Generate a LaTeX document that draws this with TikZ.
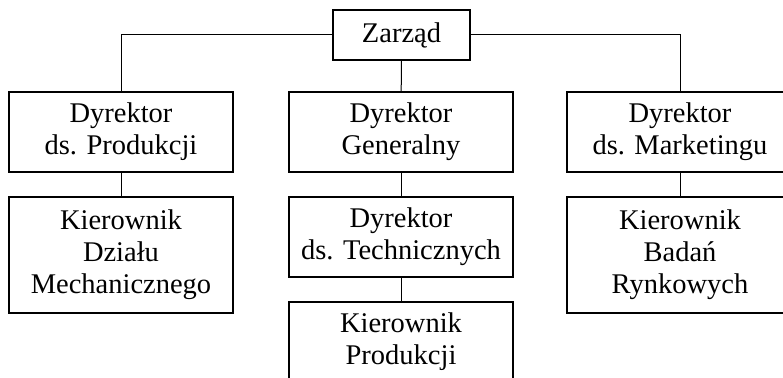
\documentclass[tikz,border=0pt]{standalone}
\usepackage{fontspec}
\setmainfont{Liberation Serif}
\begin{document}
\begin{tikzpicture}[x=1pt,y=-1pt,
  box/.style={draw,line width=1.1pt,align=center,inner sep=0pt,
    font=\fontsize{28.5}{32}\selectfont,minimum width=224pt},
  link/.style={line width=1pt}]
\useasboundingbox (0,0) rectangle (783,377);
\clip (0,0) rectangle (783,377);
\node[box,minimum width=137pt,minimum height=50pt] (z) at (401.5,35) {Zarząd};
\node[box,minimum height=80pt] (dp) at (121,132) {Dyrektor\\ds. Produkcji};
\node[box,minimum height=80pt] (dg) at (401,132) {Dyrektor\\Generalny};
\node[box,minimum height=80pt,minimum width=226pt] (dm) at (680,132) {Dyrektor\\ds. Marketingu};
\node[box,minimum height=116pt] (kdm) at (121,255) {Kierownik\\Działu\\Mechanicznego};
\node[box,minimum height=80pt] (dt) at (401,237) {Dyrektor\\ds. Technicznych};
\node[box,minimum height=80pt] (kp) at (401,342) {Kierownik\\Produkcji};
\node[box,minimum height=116pt,minimum width=226pt] (kbr) at (680,255) {Kierownik\\Badań\\Rynkowych};
\draw[link] (z.west) -| (dp.north);
\draw[link] (z.east) -| (dm.north);
\draw[link] (z) -- (dg);
\draw[link] (dp) -- (kdm);
\draw[link] (dg) -- (dt);
\draw[link] (dt) -- (kp);
\draw[link] (dm) -- (kbr);
\end{tikzpicture}
\end{document}
